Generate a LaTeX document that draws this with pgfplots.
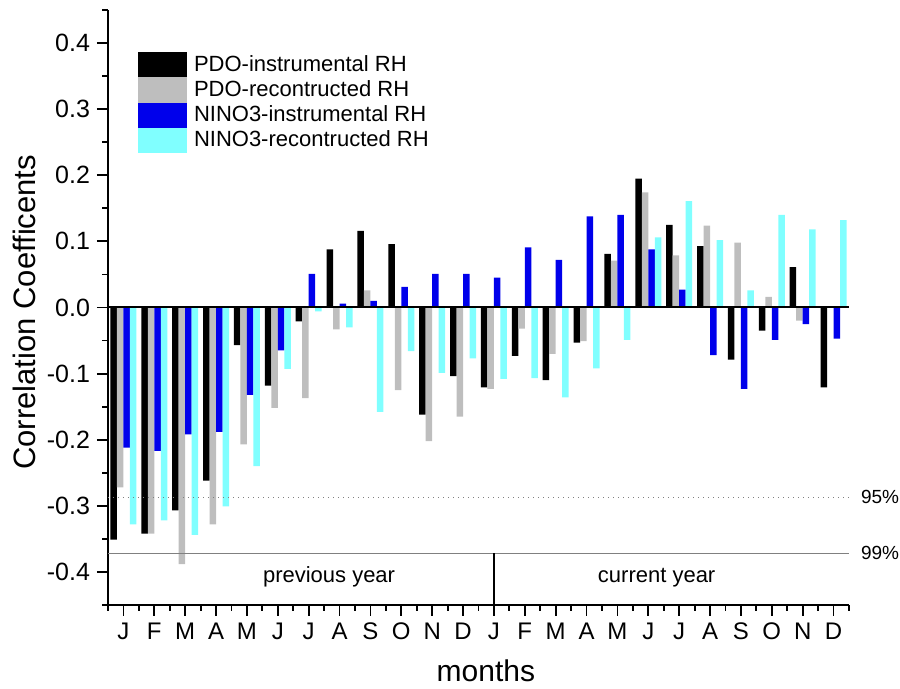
\documentclass[border=0pt]{standalone}
\usepackage{pgfplots}
\pgfplotsset{compat=1.18}
\usepackage{pgfplotstable}
\usepackage{fontspec}
\setmainfont{Liberation Sans}
\definecolor{cgray}{RGB}{190,190,190}
\definecolor{cblue}{RGB}{0,0,235}
\definecolor{ccyan}{RGB}{128,255,255}

\pgfplotstableread{
x  pdoI    pdoR    ninoI   ninoR
0  -0.351  -0.272  -0.212  -0.328
1  -0.342  -0.342  -0.217  -0.322
2  -0.307  -0.388  -0.192  -0.344
3  -0.262  -0.328  -0.188  -0.301
4  -0.057  -0.207  -0.132  -0.240
5  -0.118  -0.152  -0.065  -0.093
6  -0.021  -0.137   0.051  -0.006
7   0.088  -0.033   0.006  -0.030
8   0.116   0.026   0.010  -0.158
9   0.096  -0.125   0.031  -0.066
10 -0.162  -0.202   0.051  -0.099
11 -0.104  -0.165   0.051  -0.077
12 -0.121  -0.123   0.045  -0.108
13 -0.073  -0.032   0.091  -0.107
14 -0.110  -0.070   0.072  -0.136
15 -0.053  -0.051   0.138  -0.092
16  0.081   0.071   0.140  -0.049
17  0.195   0.174   0.088   0.106
18  0.125   0.079   0.027   0.161
19  0.093   0.124  -0.072   0.102
20 -0.079   0.098  -0.123   0.026
21 -0.035   0.016  -0.049   0.140
22  0.061  -0.020  -0.025   0.118
23 -0.121   0.000  -0.047   0.132
}\datatable

\begin{document}
\begin{tikzpicture}
\path[use as bounding box] (0,0) rectangle (450pt,344.5pt);
\begin{axis}[
  at={(54pt,42pt)}, anchor=south west,
  scale only axis, width=370.5pt, height=297.5pt,
  xmin=-0.5, xmax=23.5, ymin=-0.45, ymax=0.45,
  axis x line*=bottom, axis y line*=left,
  axis line style={line width=1pt},
  xtick={0,...,23},
  xticklabels={J,F,M,A,M,J,J,A,S,O,N,D,J,F,M,A,M,J,J,A,S,O,N,D},
  minor xtick={-0.5,0.5,1.5,2.5,3.5,4.5,5.5,6.5,7.5,8.5,9.5,10.5,11.5,12.5,13.5,14.5,15.5,16.5,17.5,18.5,19.5,20.5,21.5,22.5,23.5},
  ytick={-0.4,-0.3,-0.2,-0.1,0,0.1,0.2,0.3,0.4},
  minor ytick={-0.45,-0.35,-0.25,-0.15,-0.05,0.05,0.15,0.25,0.35,0.45},
  tick align=outside,
  major tick length=5.5pt, minor tick length=2.8pt,
  every tick/.style={black, line width=0.9pt},
  /pgf/number format/assume math mode=true,
  yticklabel style={/pgf/number format/.cd, fixed, fixed zerofill, precision=1, /tikz/.cd, font=\fontsize{12.5}{14}\selectfont},
  scaled y ticks=false,
  xticklabel style={font=\fontsize{12}{14}\selectfont},
  xlabel={months},
  xlabel style={at={(axis description cs:0.51,-0.110)}, anchor=center, font=\fontsize{15}{18}\selectfont},
  ylabel={Correlation Coefficents},
  ylabel style={at={(axis description cs:-0.113,0.492)}, anchor=center, font=\fontsize{15.5}{18}\selectfont},
  ybar, bar width=0.21,
  legend style={draw=none, fill=none, at={(axis description cs:0.0405,0.929)}, anchor=north west,
    font=\fontsize{11}{12}\selectfont, row sep=0pt, inner sep=0pt, outer sep=0pt,
    nodes={inner sep=0pt, outer sep=0pt}, column sep=3.5pt},
  legend cell align=left,
  legend image code/.code={\fill[#1] (0pt,-6.3pt) rectangle (24.5pt,6.3pt);},
  clip=false,
]
\addplot[fill=black, draw=none, bar shift=-0.315] table[x=x, y=pdoI] {\datatable};
\addplot[fill=cgray, draw=none, bar shift=-0.105] table[x=x, y=pdoR] {\datatable};
\addplot[fill=cblue, draw=none, bar shift=0.105] table[x=x, y=ninoI] {\datatable};
\addplot[fill=ccyan, draw=none, bar shift=0.315] table[x=x, y=ninoR] {\datatable};
\legend{PDO-instrumental RH, PDO-recontructed RH, NINO3-instrumental RH, NINO3-recontructed RH}
\draw[line width=1pt, black] (axis cs:-0.5,0) -- (axis cs:23.5,0);
\draw[gray, line width=0.5pt, dotted] (axis cs:-0.5,-0.287) -- (axis cs:23.5,-0.287);
\draw[gray, line width=0.6pt] (axis cs:-0.5,-0.372) -- (axis cs:23.5,-0.372);
\draw[black, line width=0.6pt] (axis cs:12,-0.372) -- (axis cs:12,-0.45);
\node[font=\fontsize{11}{13}\selectfont] at (axis cs:6.66,-0.408) {previous year};
\node[font=\fontsize{11}{13}\selectfont] at (axis cs:17.27,-0.408) {current year};
\node[anchor=west, font=\fontsize{9.5}{11}\selectfont, xshift=2.5pt] at (axis cs:23.5,-0.287) {95\%};
\node[anchor=west, font=\fontsize{9.5}{11}\selectfont, xshift=2.5pt] at (axis cs:23.5,-0.372) {99\%};
\end{axis}
\end{tikzpicture}
\end{document}
